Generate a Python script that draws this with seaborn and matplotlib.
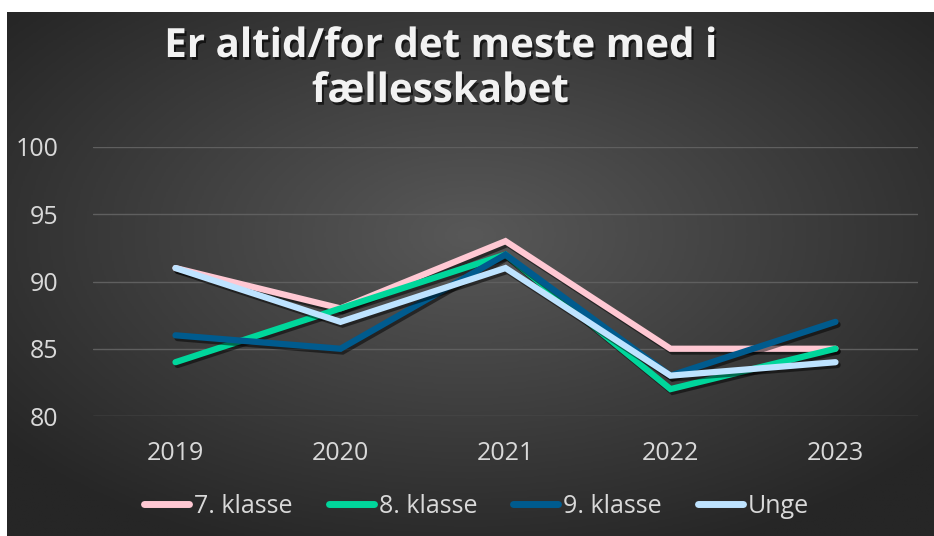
import matplotlib
matplotlib.use("Agg")
import matplotlib.pyplot as plt
import matplotlib.patheffects as pe
import seaborn as sns
import numpy as np
import pandas as pd

years = ["2019", "2020", "2021", "2022", "2023"]
klasse7 = [91, 88, 93, 85, 85]
klasse8 = [84, 88, 92, 82, 85]
klasse9 = [86, 85, 92, 83, 87]
unge = [91, 87, 91, 83, 84]
series = ["7. klasse", "8. klasse", "9. klasse", "Unge"]
colors = ["#FFC8D3", "#00D69B", "#005B8E", "#BEE3FF"]

df = pd.DataFrame({
    "year": years * 4,
    "value": klasse7 + klasse8 + klasse9 + unge,
    "serie": [s for s in series for _ in years],
})

sns.set_theme(style="dark")
plt.rcParams["font.family"] = ["Open Sans", "DejaVu Sans"]

W, H = 934, 536
fig = plt.figure(figsize=(W / 100, H / 100), dpi=100, facecolor="white")

# radial gradient background
bg = fig.add_axes([7 / W, 0, (W - 7) / W, (H - 12) / H])
yy, xx = np.mgrid[-1:1:300j, -1:1:500j]
r = np.sqrt((xx / 1.0) ** 2 + ((yy + 0.15) / 1.0) ** 2)
bg.imshow(np.clip(r, 0, 1.3), cmap=sns.blend_palette(["#585858", "#262626"], as_cmap=True),
          aspect="auto", extent=[0, 1, 0, 1], vmin=0, vmax=1.3)
bg.set_axis_off()

ax = fig.add_axes([93 / W, (H - 416) / H, 825 / W, (416 - 147) / H])
ax.set_facecolor("none")
shadow = [pe.SimpleLineShadow(offset=(1.5, -2), shadow_color="black", alpha=0.5), pe.Normal()]
sns.lineplot(data=df, x="year", y="value", hue="serie", hue_order=series,
             palette=colors, linewidth=4.5, ax=ax, sort=False)
for line in ax.get_lines():
    line.set_path_effects(shadow)
    line.set_solid_capstyle("round")
    line.set_solid_joinstyle("miter")

ax.set_xlim(-0.5, 4.5)
ax.set_ylim(80, 100)
ax.set_yticks([80, 85, 90, 95, 100])
ax.grid(axis="y", color="#5f5f5f", linewidth=1)
ax.grid(axis="x", visible=False)
for s in ax.spines.values():
    s.set_visible(False)
ax.tick_params(axis="both", colors="#d9d9d9", labelsize=18, length=0)
ax.tick_params(axis="y", pad=25)
ax.tick_params(axis="x", pad=18)
ax.set_xlabel("")
ax.set_ylabel("")

leg = ax.legend(loc="upper center", bbox_to_anchor=(0.465, -0.205), ncol=4, frameon=False,
                fontsize=18, handlelength=1.8, handletextpad=0.2, columnspacing=1.45)
for t in leg.get_texts():
    t.set_color("#d9d9d9")
for h in leg.get_lines():
    h.set_linewidth(5)
    h.set_path_effects([])

fig.text(440 / W, 1 - 69 / H, "Er altid/for det meste med i\nfællesskabet", ha="center", va="center",
         fontsize=29, fontweight="bold", color="#f2f2f2", linespacing=1.2,
         path_effects=[pe.withSimplePatchShadow(offset=(1.5, -2), shadow_rgbFace="black", alpha=0.6)])

fig.savefig("out.png", dpi=100, facecolor="white")
